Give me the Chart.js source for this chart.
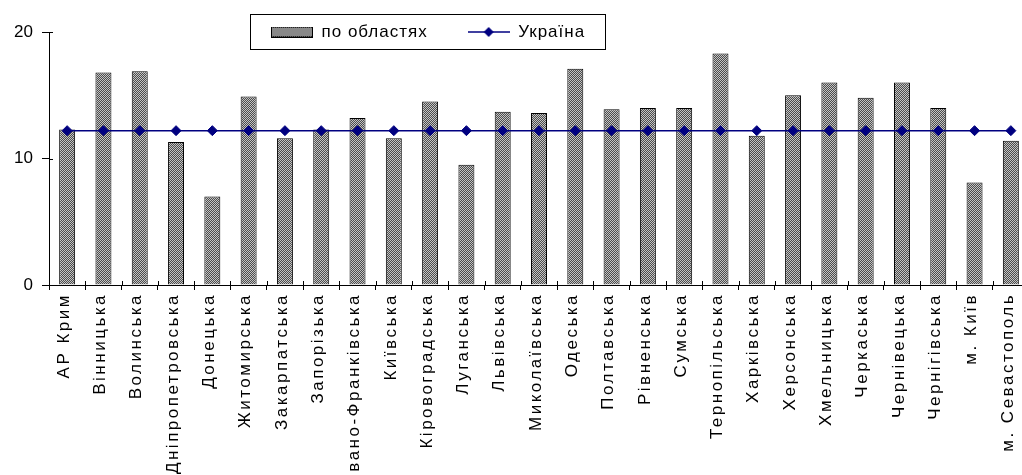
<!DOCTYPE html>
<html>
<head>
<meta charset="utf-8">
<script src="https://cdn.jsdelivr.net/npm/chart.js@4.4.1/dist/chart.umd.min.js"></script>
<style>
  html, body { margin: 0; padding: 0; background: #fff; overflow: hidden; }
  #wrap { position: absolute; left: 0; top: 0; width: 1040px; height: 500px; }
</style>
</head>
<body>
<div id="wrap"><canvas id="chart" width="1040" height="500"></canvas></div>
<script>
// Regions (categories)
const regions = [
    'АР Крим', 'Вінницька', 'Волинська', 'Дніпропетровська', 'Донецька',
    'Житомирська', 'Закарпатська', 'Запорізька', 'Івано-Франківська', 'Київська',
    'Кіровоградська', 'Луганська', 'Львівська', 'Миколаївська', 'Одеська',
    'Полтавська', 'Рівненська', 'Сумська', 'Тернопільська', 'Харківська',
    'Херсонська', 'Хмельницька', 'Черкаська', 'Чернівецька', 'Чернігівська',
    'м. Київ', 'м. Севастополь'
];

// Values by region (bars)
const regionValues = [
    12.3, 16.8, 16.9, 11.3, 7.0,
    14.9, 11.6, 12.3, 13.2, 11.6,
    14.5, 9.5, 13.7, 13.6, 17.1,
    13.9, 14.0, 14.0, 18.3, 11.8,
    15.0, 16.0, 14.8, 16.0, 14.0,
    8.1, 11.4
];

// Ukraine average (line)
const ukraineValues = [
    12.2, 12.2, 12.2, 12.2, 12.2,
    12.2, 12.2, 12.2, 12.2, 12.2,
    12.2, 12.2, 12.2, 12.2, 12.2,
    12.2, 12.2, 12.2, 12.2, 12.2,
    12.2, 12.2, 12.2, 12.2, 12.2,
    12.2, 12.2
];

const seriesNames = ['по областях', 'Україна'];
const yTicks = [0, 10, 20];

Chart.defaults.font.family = '"Liberation Sans", Arial, sans-serif';
Chart.defaults.font.size = 17;
Chart.defaults.color = '#000';

const canvas = document.getElementById('chart');
const ctx = canvas.getContext('2d');

// Excel draws its text with wide spacing; use letterSpacing when the browser has it,
// otherwise fall back to a wider face for the rotated region names
const hasSpacing = 'letterSpacing' in ctx;
const xTickFont = hasSpacing
    ? { family: '"Liberation Sans", Arial, sans-serif', size: 17 }
    : { family: '"DejaVu Sans", sans-serif', size: 18 };

// Dotted grey fill like the Excel pattern
const tile = document.createElement('canvas');
tile.width = 2; tile.height = 2;
const tctx = tile.getContext('2d');
tctx.fillStyle = '#4c4c4c';
tctx.fillRect(0, 0, 2, 2);
tctx.fillStyle = '#c4c4c4';
tctx.fillRect(0, 0, 1, 1);
tctx.fillRect(1, 1, 1, 1);
const barPattern = ctx.createPattern(tile, 'repeat');

// Legend symbols
const barSwatch = document.createElement('canvas');
barSwatch.width = 42; barSwatch.height = 11;
(function() {
    const c = barSwatch.getContext('2d');
    c.fillStyle = c.createPattern(tile, 'repeat');
    c.fillRect(0, 0, 42, 11);
    c.strokeStyle = '#000';
    c.lineWidth = 1;
    c.strokeRect(0.5, 0.5, 41, 10);
})();

const lineSwatch = document.createElement('canvas');
lineSwatch.width = 42; lineSwatch.height = 12;
(function() {
    const c = lineSwatch.getContext('2d');
    c.strokeStyle = '#000080';
    c.lineWidth = 1.5;
    c.beginPath();
    c.moveTo(0, 6); c.lineTo(42, 6);
    c.stroke();
    c.fillStyle = '#000080';
    c.beginPath();
    c.moveTo(21, 1); c.lineTo(26, 6); c.lineTo(21, 11); c.lineTo(16, 6);
    c.closePath();
    c.fill();
})();

function withSpacing(obj, fnName, spacing) {
    if (!hasSpacing || obj['_sp_' + fnName]) return;
    const orig = obj[fnName];
    obj[fnName] = function() {
        this.ctx.save();
        this.ctx.letterSpacing = spacing;
        orig.apply(this, arguments);
        this.ctx.restore();
    };
    obj['_sp_' + fnName] = true;
}

// Move the legend onto the plot and frame it, add inner tick marks, widen tick text
const excelLook = {
    id: 'excelLook',
    afterLayout(chart) {
        const lg = chart.legend;
        const pad = lg.options.labels.padding;
        lg.left = 271 - pad;
        lg.right = 1000;
        lg.top = 32 - pad - 8.5;
        lg.bottom = lg.top + 120;
    },
    beforeDraw(chart) {
        withSpacing(chart.scales.x, 'drawLabels', '2.5px');
        withSpacing(chart.legend, 'draw', '1px');
    },
    afterDraw(chart) {
        const c = chart.ctx;
        const area = chart.chartArea;
        const ys = chart.scales.y;
        c.save();
        c.strokeStyle = '#000';
        c.lineWidth = 1;
        c.beginPath();
        // y ticks poke into the plot
        ys.ticks.forEach(t => {
            const y = Math.round(ys.getPixelForValue(t.value)) + 0.5;
            c.moveTo(area.left, y);
            c.lineTo(area.left + 4, y);
        });
        // x ticks at category boundaries poke into the plot
        const n = regions.length;
        for (let i = 1; i <= n; i++) {
            const x = Math.round(area.left + i * (area.right - area.left) / n) + 0.5;
            c.moveTo(x, area.bottom);
            c.lineTo(x, area.bottom - 4);
        }
        c.stroke();

        // legend frame
        const hb = chart.legend.legendHitBoxes;
        if (hb && hb.length) {
            const last = hb[hb.length - 1];
            const left = Math.round(hb[0].left - 21) + 0.5;
            const right = Math.round(last.left + last.width + 38) + 0.5;
            c.strokeRect(left, 14.5, right - left, 35);
        }
        c.restore();
    }
};

new Chart(canvas, {
    type: 'bar',
    data: {
        labels: regions,
        datasets: [
            {
                type: 'bar',
                label: seriesNames[0],
                data: regionValues,
                backgroundColor: barPattern,
                borderColor: '#000',
                borderWidth: 1,
                barPercentage: 0.44,
                categoryPercentage: 1,
                order: 1
            },
            {
                type: 'line',
                label: seriesNames[1],
                data: ukraineValues,
                borderColor: '#000080',
                borderWidth: 1.5,
                pointStyle: 'rectRot',
                pointRadius: 5,
                pointBackgroundColor: '#000080',
                pointBorderColor: '#000080',
                pointBorderWidth: 1,
                fill: false,
                order: 0
            }
        ]
    },
    options: {
        responsive: false,
        maintainAspectRatio: false,
        animation: false,
        events: [],
        layout: {
            padding: { top: 31, left: 0, right: 11, bottom: 0 }
        },
        plugins: {
            legend: {
                display: true,
                position: 'top',
                align: 'start',
                maxHeight: 1,
                labels: {
                    usePointStyle: true,
                    pointStyleWidth: 42,
                    padding: 40,
                    color: '#000',
                    font: { size: 17 },
                    generateLabels(chart) {
                        return chart.data.datasets.map((ds, i) => ({
                            text: ds.label,
                            datasetIndex: i,
                            pointStyle: i === 0 ? barSwatch : lineSwatch,
                            fillStyle: '#888',
                            strokeStyle: '#000',
                            fontColor: '#000',
                            lineWidth: 0,
                            hidden: false
                        }));
                    }
                }
            },
            title: { display: false },
            tooltip: { enabled: false }
        },
        scales: {
            x: {
                offset: true,
                grid: {
                    offset: true,
                    drawOnChartArea: false,
                    drawTicks: true,
                    tickLength: 5,
                    color: '#000'
                },
                border: { display: true, color: '#000', width: 1 },
                ticks: {
                    autoSkip: false,
                    minRotation: 90,
                    maxRotation: 90,
                    padding: 3,
                    labelOffset: -3,
                    color: '#000',
                    font: xTickFont
                },
                afterFit(scale) { scale.height = 215; }
            },
            y: {
                min: 0,
                max: 20,
                afterBuildTicks(scale) {
                    scale.ticks = yTicks.map(v => ({ value: v }));
                },
                grid: {
                    drawOnChartArea: false,
                    drawTicks: true,
                    tickLength: 7,
                    color: '#000'
                },
                border: { display: true, color: '#000', width: 1 },
                ticks: {
                    padding: 9,
                    color: '#000',
                    font: { size: 17 }
                },
                afterFit(scale) { scale.width = 49; }
            }
        }
    },
    plugins: [excelLook]
});
</script>
</body>
</html>
